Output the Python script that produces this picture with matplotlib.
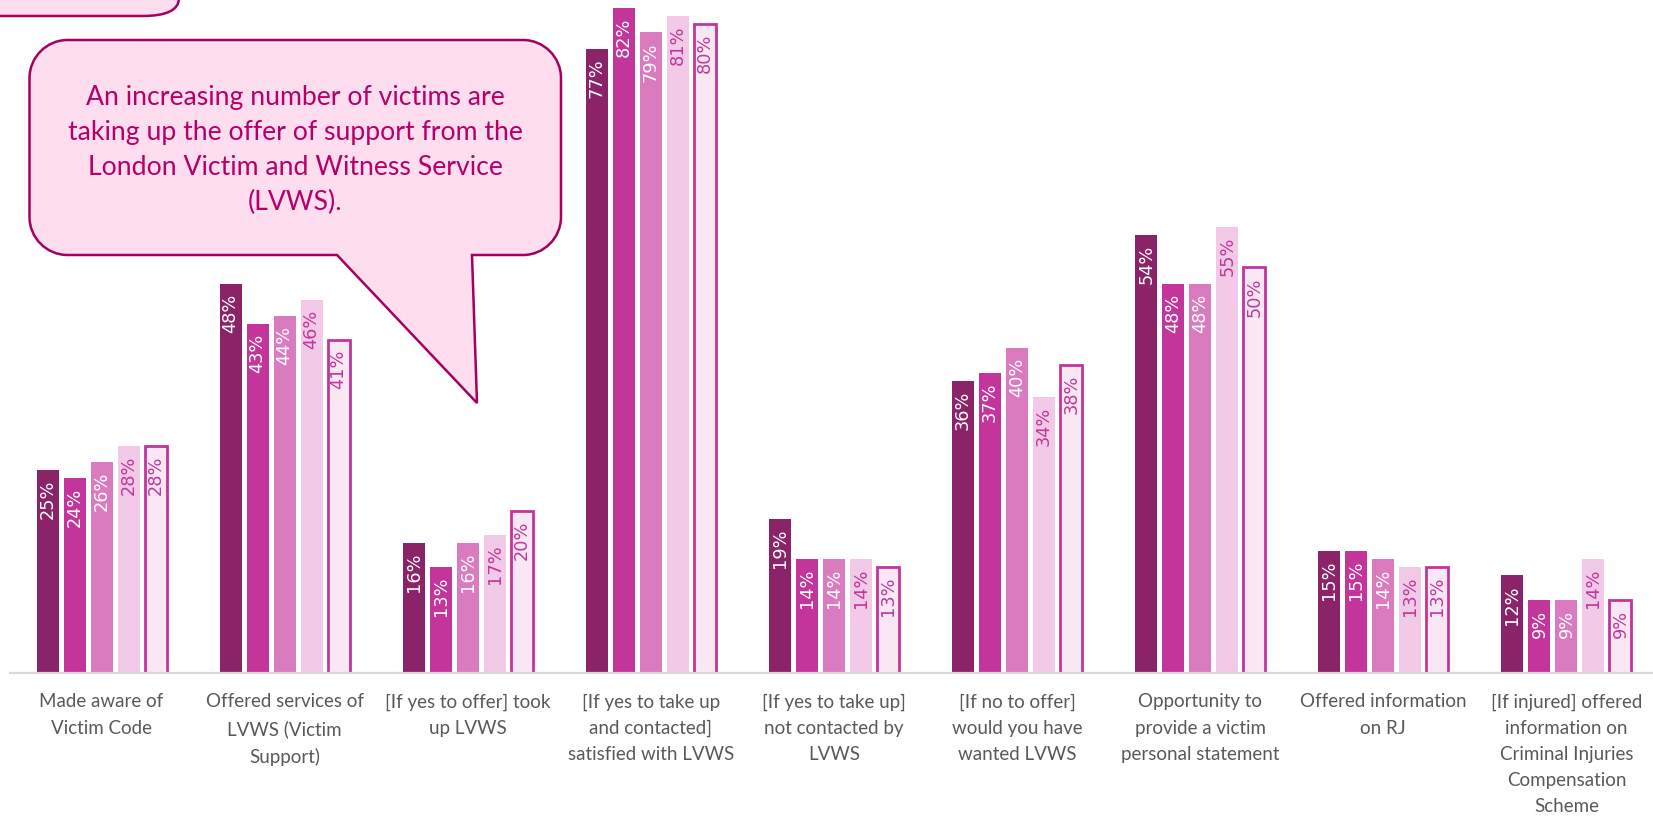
import numpy as np
import matplotlib.pyplot as plt
from matplotlib.path import Path
from matplotlib.patches import PathPatch, FancyBboxPatch

W, H = 1653, 816

categories = [
    'Made aware of\nVictim Code',
    'Offered services of\nLVWS (Victim\nSupport)',
    '[If yes to offer] took\nup LVWS',
    '[If yes to take up\nand contacted]\nsatisfied with LVWS',
    '[If yes to take up]\nnot contacted by\nLVWS',
    '[If no to offer]\nwould you have\nwanted LVWS',
    'Opportunity to\nprovide a victim\npersonal statement',
    'Offered information\non RJ',
    '[If injured] offered\ninformation on\nCriminal Injuries\nCompensation\nScheme',
]

wave1 = [25, 48, 16, 77, 19, 36, 54, 15, 12]
wave2 = [24, 43, 13, 82, 14, 37, 48, 15, 9]
wave3 = [26, 44, 16, 79, 14, 40, 48, 14, 9]
wave4 = [28, 46, 17, 81, 14, 34, 55, 13, 14]
wave5 = [28, 41, 20, 80, 13, 38, 50, 13, 9]
waves = [wave1, wave2, wave3, wave4, wave5]

fills = ['#8B2369', '#C4359B', '#DA7BBF', '#F2C9E6', '#F9E8F4']
edges = [None, None, None, None, '#C4359B']
label_cols = ['white', 'white', 'white', '#C4359B', '#C4359B']

callout = ('An increasing number of victims are\ntaking up the offer of support from the\n'
           'London Victim and Witness Service\n(LVWS).')

fig = plt.figure(figsize=(W / 100, H / 100), dpi=100)
ax = fig.add_axes([10 / W, 143.4 / H, 1648 / W, 672.6 / H])

x = np.arange(len(categories))
step, bw = 0.1475, 0.12
for i, vals in enumerate(waves):
    pos = x + (i - 2) * step
    if edges[i]:
        bars = ax.bar(pos, vals, bw, color=fills[i], edgecolor=edges[i], linewidth=2)
    else:
        bars = ax.bar(pos, vals, bw, color=fills[i], linewidth=0)
    for p, v in zip(pos, vals):
        ax.annotate(f'{v}%', (p, v), xytext=(0, -7), textcoords='offset points',
                    rotation=90, ha='center', va='top', fontsize=12.8,
                    color=label_cols[i], family='DejaVu Sans')

ax.set_xlim(-0.5, 8.5)
ax.set_ylim(0, 83)
for s in ['top', 'right', 'left']:
    ax.spines[s].set_visible(False)
ax.spines['bottom'].set_color('#D9D9D9')
ax.spines['bottom'].set_linewidth(1.6)
ax.set_yticks([])
ax.set_xticks(x)
ax.set_xticklabels(categories, fontsize=13.5, color='#595959', family='Lato', linespacing=1.65)
ax.tick_params(axis='x', length=0, pad=15)


def fxy(px, py):
    return px / W, 1 - py / H


# speech bubble with a tail on its lower edge
L, R, T, B, r = 29.5, 561, 40, 255, 38
t0, t1, tip = 337, 472, (477, 403)
k = 0.45
pts = [
    (L + r, T), (R - r, T), (R - r * k, T), (R, T + r * k), (R, T + r),
    (R, B - r), (R, B - r * k), (R - r * k, B), (R - r, B),
    (t1, B), tip, (t0, B),
    (L + r, B), (L + r * k, B), (L, B - r * k), (L, B - r),
    (L, T + r), (L, T + r * k), (L + r * k, T), (L + r, T),
]
codes = [Path.MOVETO, Path.LINETO, Path.CURVE4, Path.CURVE4, Path.CURVE4,
         Path.LINETO, Path.CURVE4, Path.CURVE4, Path.CURVE4,
         Path.LINETO, Path.LINETO, Path.LINETO,
         Path.LINETO, Path.CURVE4, Path.CURVE4, Path.CURVE4,
         Path.LINETO, Path.CURVE4, Path.CURVE4, Path.CURVE4]
bubble = Path([fxy(*p) for p in pts], codes)
fig.patches.append(PathPatch(bubble, transform=fig.transFigure, facecolor='#FDDDEE',
                             edgecolor='#A5005F', linewidth=1.8, zorder=5))
fig.text(*fxy(295, 150), callout, ha='center', va='center', fontsize=19.2,
         color='#B5006A', family='Lato', linespacing=1.5, zorder=6)

# second box running off the top-left corner
x0, y0 = fxy(-60, -60)
x1, y1 = fxy(179, 16)
fig.patches.append(FancyBboxPatch((x0, y1), x1 - x0, y0 - y1,
                                  boxstyle='round,pad=0,rounding_size=0.022',
                                  transform=fig.transFigure, facecolor='#FDDDEE',
                                  edgecolor='#A5005F', linewidth=1.8, zorder=5))

fig.savefig('out.png', dpi=100)
